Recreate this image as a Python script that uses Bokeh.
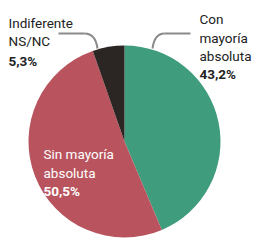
import numpy as np
from bokeh.plotting import figure
from bokeh.models import Range1d, ColumnDataSource
from bokeh.embed import file_html
from bokeh.resources import INLINE
from bokeh.core.properties import value

# Data
categories = ["Con mayoría absoluta", "Sin mayoría absoluta", "Indiferente NS/NC"]
values = [43.2, 50.5, 5.3]
colors = ["#3f9c7c", "#b9545e", "#2b2623"]

# Pie geometry (data coords, y up)
cx, cy, r = 124, 100, 96

vals = np.array(values)
frac = vals / vals.sum()
cum = np.concatenate([[0], np.cumsum(frac)])
start = np.pi / 2 - cum[:-1] * 2 * np.pi
end = np.pi / 2 - cum[1:] * 2 * np.pi

src = ColumnDataSource(dict(start=start, end=end, color=colors))

p = figure(width=254, height=241, output_backend="svg", toolbar_location=None,
           x_range=Range1d(0, 254), y_range=Range1d(0, 241), min_border=0)
p.axis.visible = False
p.grid.visible = False
p.outline_line_color = None
p.background_fill_color = "white"

p.wedge(x=cx, y=cy, radius=r, start_angle="start", end_angle="end",
        direction="clock", fill_color="color", line_color=None, source=src)

# leader lines
line_col = "#8a8a8a"
p.line(x=[58, 84], y=[208, 208], line_color=line_col, line_width=2)
p.quadratic(x0=84, y0=208, x1=97, y1=193, cx=95, cy=208, line_color=line_col, line_width=2)
p.line(x=[190, 164], y=[208, 208], line_color=line_col, line_width=2)
p.quadratic(x0=164, y0=208, x1=152, y1=193, cx=154, cy=208, line_color=line_col, line_width=2)

font = value("Roboto")
dark = "#222222"
fs = "13.5px"

# Indiferente label
p.text(x=[8, 8], y=[219, 201], text=["Indiferente", "NS/NC"], text_font=font,
       text_font_size=fs, text_color=dark, text_baseline="alphabetic")
p.text(x=[8], y=[181], text=[f"{values[2]:.1f}%".replace(".", ",")], text_font=font,
       text_font_size=fs, text_font_style="bold", text_color=dark, text_baseline="alphabetic")

# Con mayoría label
p.text(x=[199, 199, 199], y=[223, 204, 186], text=["Con", "mayoría", "absoluta"], text_font=font,
       text_font_size=fs, text_color=dark, text_baseline="alphabetic")
p.text(x=[199], y=[168], text=[f"{values[0]:.1f}%".replace(".", ",")], text_font=font,
       text_font_size=fs, text_font_style="bold", text_color=dark, text_baseline="alphabetic")

# Sin mayoría label
p.text(x=[43, 43], y=[88, 69], text=["Sin mayoría", "absoluta"], text_font=font,
       text_font_size=fs, text_color="white", text_baseline="alphabetic")
p.text(x=[43], y=[51], text=[f"{values[1]:.1f}%".replace(".", ",")], text_font=font,
       text_font_size=fs, text_font_style="bold", text_color="white", text_baseline="alphabetic")

open("out.html", "w").write(file_html(p, INLINE))
